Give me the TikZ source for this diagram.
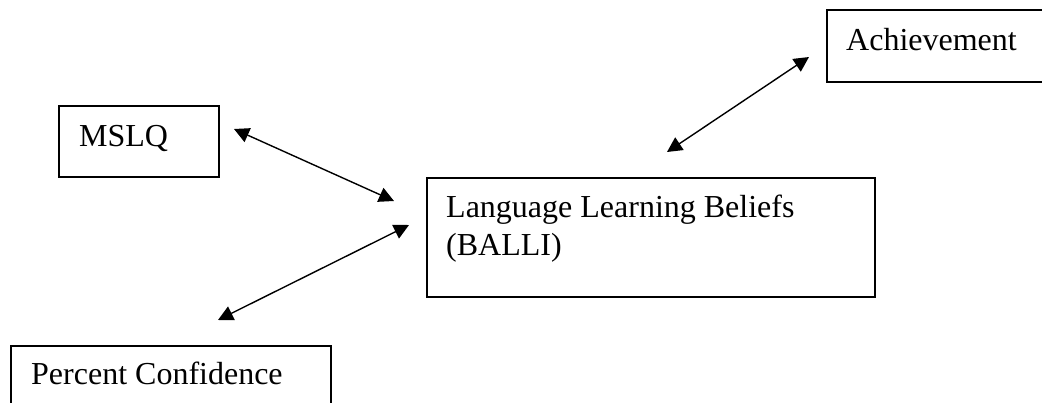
\documentclass[tikz,border=0pt]{standalone}
\usepackage{fontspec}
\setmainfont{Liberation Serif}
\usetikzlibrary{arrows.meta}
\begin{document}
\begin{tikzpicture}[x=1pt,y=-1pt,
  box/.style={draw, line width=1.8pt, rectangle, inner sep=0pt, anchor=north west},
  lbl/.style={anchor=base west, inner sep=0pt, font=\fontsize{32}{38}\selectfont},
  link/.style={line width=1.4pt, {Triangle[length=15pt,width=15pt]}-{Triangle[length=15pt,width=15pt]}}]
\useasboundingbox (0,0) rectangle (1042,402);
\clip (0,0) rectangle (1042,402);
% boxes
\node[box, minimum width=160pt, minimum height=71pt] (mslq) at (58,105) {};
\node[box, minimum width=320pt, minimum height=80pt] (pc) at (10,345) {};
\node[box, minimum width=448pt, minimum height=119pt] (llb) at (426,177) {};
\node[box, minimum width=240pt, minimum height=72pt] (ach) at (826,9) {};
% labels
\node[lbl] (mslqt) at (79,146) {MSLQ};
\node[lbl] (pct) at (31,384) {Percent Confidence};
\node[lbl] (llbt1) at (446,217) {Language Learning Beliefs};
\node[lbl] (llbt2) at (446,255) {(BALLI)};
\node[lbl] (acht) at (846,50) {Achievement};
% connector ends
\coordinate (m1) at (234,129);
\coordinate (m2) at (394,201);
\coordinate (p1) at (218,320);
\coordinate (p2) at (409,225);
\coordinate (a1) at (667,152);
\coordinate (a2) at (809,57);
\draw[link] (m1) -- (m2);
\draw[link] (p1) -- (p2);
\draw[link] (a1) -- (a2);
\end{tikzpicture}
\end{document}
